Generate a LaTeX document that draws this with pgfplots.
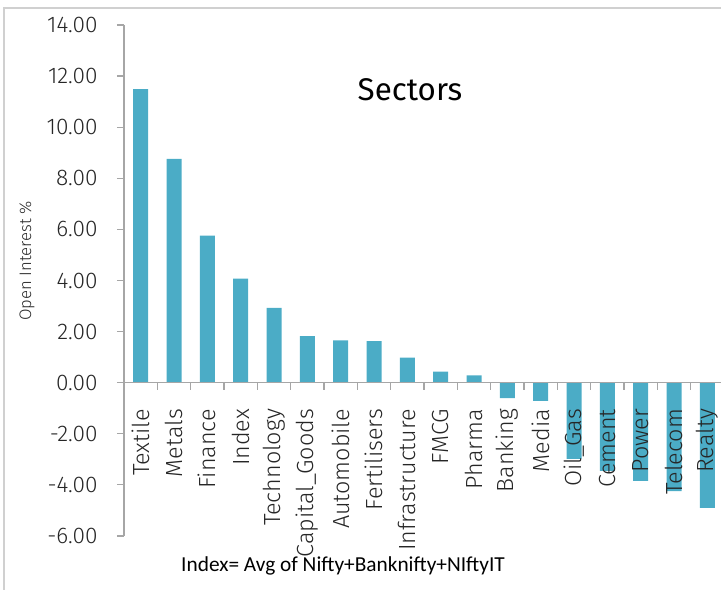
\documentclass[border=0pt]{standalone}
\usepackage{fontspec}
\usepackage{pgfplots}
\pgfplotsset{compat=1.18}
\setmainfont{Fira Sans}[UprightFont={* Light}]
\newfontfamily\titlefont{Fira Sans}
\newfontfamily\notefont{Carlito}

\definecolor{barcol}{HTML}{4BACC6}
\definecolor{axcol}{HTML}{A6A6A6}
\definecolor{framecol}{HTML}{D0D0D0}
\definecolor{txtcol}{HTML}{262626}

\begin{document}
\begin{tikzpicture}
\useasboundingbox (0,0) rectangle (540.75pt,441.75pt);
\clip (0,0) rectangle (540.75pt,441.75pt);
\draw[framecol, line width=1.2pt] (3pt,-5pt) -- (3pt,435.75pt) -- (550pt,435.75pt);

\begin{axis}[
  at={(93pt,39.75pt)}, anchor=south west,
  scale only axis,
  width=450pt, height=383.25pt,
  xmin=-0.5, xmax=17.5,
  ymin=-6, ymax=14,
  axis x line=middle,
  axis y line=left,
  axis on top,
  hide obscured x ticks=false,
  axis line style={draw=axcol, line width=1pt, -},
  tick style={draw=axcol, line width=0.9pt},
  tick align=outside,
  major tick length=5.25pt,
  ytick={-6,-4,...,14},
  yticklabel style={font=\fontsize{17}{17}\selectfont, text=txtcol, xshift=-11pt,
    /pgf/number format/.cd, fixed, fixed zerofill, precision=2},
  /pgf/number format/assume math mode=true,
  xtick={-0.5,0.5,...,17.5},
  x tick label as interval,
  xticklabels={Textile,Metals,Finance,Index,Technology,Capital\_Goods,Automobile,Fertilisers,Infrastructure,FMCG,Pharma,Banking,Media,Oil\_Gas,Cement,Power,Telecom,Realty},
  xticklabel style={font=\fontsize{17.5}{17.5}\selectfont, text=txtcol, rotate=90, anchor=east},
  xticklabel shift=11pt,
  clip=false,
]
\addplot[ybar, bar width=11.25pt, bar shift=0pt, fill=barcol, draw=none]
  coordinates {
    (0,11.49) (1,8.76) (2,5.76) (3,4.07) (4,2.93) (5,1.82) (6,1.66)
    (7,1.63) (8,0.98) (9,0.43) (10,0.29) (11,-0.60) (12,-0.71)
    (13,-2.98) (14,-3.45) (15,-3.84) (16,-4.24) (17,-4.90)
  };
\end{axis}

\node[font=\titlefont\fontsize{23.5}{23.5}\selectfont, text=black] at (307.5pt,374.25pt) {Sectors};
\node[font=\notefont\fontsize{16}{16}\selectfont, text=black] at (257.25pt,17.25pt) {Index= Avg of Nifty+Banknifty+NIftyIT};
\node[font=\fontsize{12.5}{12.5}\selectfont, text=txtcol, rotate=90] at (20.25pt,246pt) {Open Interest \%};
\end{tikzpicture}
\end{document}
